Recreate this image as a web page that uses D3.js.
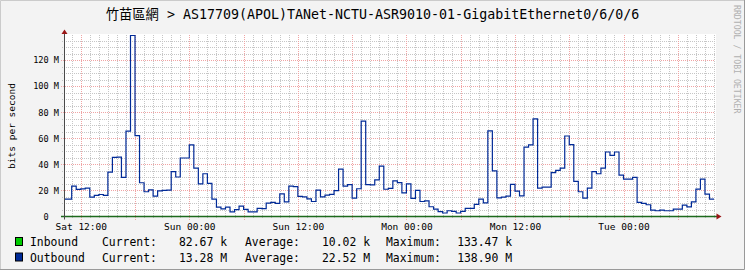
<!DOCTYPE html>
<html>
<head>
<meta charset="utf-8">
<script src="https://cdn.jsdelivr.net/npm/d3@7"></script>
<style>
body { margin: 0; background: #fff; }
svg text { font-family: "DejaVu Sans Mono", "Noto Sans CJK TC", monospace; fill: #000; white-space: pre; }
</style>
</head>
<body>
<div id="chart"></div>
<script>
var title = '竹苗區網 > AS17709(APOL)TANet-NCTU-ASR9010-01-GigabitEthernet0/6/0/6';
var yLabel = 'bits per second';
var credit = 'RRDTOOL / TOBI OETIKER';

// x is in hours counted from Sat 12:00
var xTickHours = [0, 12, 24, 36, 48, 60];
var xTickLabels = ['Sat 12:00', 'Sun 00:00', 'Sun 12:00', 'Mon 00:00', 'Mon 12:00', 'Tue 00:00'];
var yTickValues = [0, 20, 40, 60, 80, 100, 120];
var yTickLabels = ['0  ', '20 M', '40 M', '60 M', '80 M', '100 M', '120 M'];

// outbound, Mbit/s, one value per 30 minutes starting Sat 10:00
var seriesStart = -2;
var seriesStep = 0.5;
var outbound = [
	13.3, 13.3, 23.3, 20.8, 21.2, 21.8, 14.9, 16.2, 16.9, 16.2,
	34.1, 45.4, 45.6, 30.0, 65.6, 138.9, 62.0, 25.9, 19.0, 20.5,
	15.6, 19.7, 20.0, 20.3, 34.4, 30.3, 44.9, 44.9, 54.9, 37.2,
	25.1, 32.8, 25.4, 13.3, 7.2, 5.9, 7.2, 3.6, 5.3, 7.9,
	5.4, 3.6, 3.6, 6.3, 6.0, 10.2, 10.8, 10.0, 17.3, 11.2,
	23.3, 23.0, 15.5, 15.0, 13.5, 11.5, 20.3, 15.1, 16.4, 17.0,
	19.8, 36.4, 23.3, 24.5, 14.1, 21.3, 73.2, 24.5, 24.2, 28.1,
	38.6, 20.9, 21.6, 27.4, 26.0, 18.1, 25.0, 13.9, 20.0, 11.5,
	12.0, 7.5, 5.6, 3.8, 2.7, 4.4, 3.9, 2.7, 4.0, 6.3,
	6.3, 9.3, 13.3, 10.4, 65.7, 35.0, 14.3, 14.8, 15.6, 24.6,
	19.5, 15.9, 53.3, 54.9, 74.9, 21.8, 22.6, 22.6, 33.6, 35.4,
	37.2, 61.8, 55.1, 26.9, 19.0, 14.1, 21.8, 34.4, 32.8, 37.2,
	49.5, 46.9, 49.5, 31.8, 28.7, 28.7, 30.0, 10.8, 10.0, 9.0,
	4.9, 4.4, 4.9, 4.4, 4.4, 5.6, 5.6, 8.7, 7.4, 11.3,
	21.0, 28.7, 17.2, 13.3
];

var legendNames = ['Inbound', 'Outbound'];
var legendColors = ['#00cc00', '#002a97'];
var legendCurrent = ['82.67 k', '13.28 M'];
var legendAverage = ['10.02 k', '22.52 M'];
var legendMaximum = ['133.47 k', '138.90 M'];

var W = 745, H = 270;
var plot = { left: 64, right: 714, top: 35, bottom: 216.5 };

var x = d3.scaleLinear().domain([-1.85, 70.0]).range([plot.left, plot.right]);
var y = d3.scaleLinear().domain([0, 139.3]).range([plot.bottom, plot.top]);

var svg = d3.select('#chart').append('svg')
	.attr('width', W)
	.attr('height', H);

// background + shaded frame
svg.append('rect').attr('width', W).attr('height', H).attr('fill', '#f3f3f3');
svg.append('path').attr('d', 'M0.5,' + H + 'V0.5H' + W).attr('fill', 'none').attr('stroke', '#cbcbcb');
svg.append('path').attr('d', 'M0,' + (H - 0.5) + 'H' + (W - 0.5) + 'V0').attr('fill', 'none').attr('stroke', '#999');

svg.append('rect')
	.attr('x', plot.left).attr('y', plot.top - 1)
	.attr('width', plot.right + 2 - plot.left).attr('height', plot.bottom - plot.top + 1)
	.attr('fill', '#fff');

var grid = svg.append('g').attr('shape-rendering', 'crispEdges');
var snap = function ( v ) { return Math.round( v ) + 0.5; };

// minor grid: every hour / every 5 M, major: every 6 hours / every 20 M
var minorX = d3.range(-1, 71).filter(function ( h ) { return ( h + 120 ) % 6 !== 0; });
var minorY = d3.range(5, 139, 5).filter(function ( v ) { return v % 20 !== 0; });
var majorX = d3.range(-1, 71).filter(function ( h ) { return ( h + 120 ) % 6 === 0; });
var majorY = d3.range(20, 139, 20);

grid.selectAll('.vmin').data(minorX).enter().append('line')
	.attr('x1', function ( d ) { return snap( x( d ) ); })
	.attr('x2', function ( d ) { return snap( x( d ) ); })
	.attr('y1', plot.top).attr('y2', plot.bottom + 2)
	.attr('stroke', '#c6c6c6').attr('stroke-dasharray', '1,1');
grid.selectAll('.hmin').data(minorY).enter().append('line')
	.attr('x1', plot.left - 2).attr('x2', plot.right + 1)
	.attr('y1', function ( d ) { return snap( y( d ) ); })
	.attr('y2', function ( d ) { return snap( y( d ) ); })
	.attr('stroke', '#c6c6c6').attr('stroke-dasharray', '1,1');
grid.selectAll('.vmaj').data(majorX).enter().append('line')
	.attr('x1', function ( d ) { return snap( x( d ) ); })
	.attr('x2', function ( d ) { return snap( x( d ) ); })
	.attr('y1', plot.top).attr('y2', plot.bottom + 3)
	.attr('stroke', '#f0a4a4').attr('stroke-dasharray', '1,1');
grid.selectAll('.hmaj').data(majorY).enter().append('line')
	.attr('x1', plot.left - 3).attr('x2', plot.right + 1)
	.attr('y1', function ( d ) { return snap( y( d ) ); })
	.attr('y2', function ( d ) { return snap( y( d ) ); })
	.attr('stroke', '#f0a4a4').attr('stroke-dasharray', '1,1');

// outbound step line
var pts = outbound.map(function ( v, i ) { return [ seriesStart + i * seriesStep, v ]; });
pts.push([ seriesStart + outbound.length * seriesStep, outbound[outbound.length - 1] ]);

svg.append('clipPath').attr('id', 'clip').append('rect')
	.attr('x', plot.left).attr('y', 0).attr('width', plot.right - plot.left).attr('height', H);

svg.append('path')
	.datum(pts)
	.attr('clip-path', 'url(#clip)')
	.attr('fill', 'none')
	.attr('stroke', legendColors[1])
	.attr('stroke-width', 1.2)
	.attr('d', d3.line()
		.x(function ( d ) { return x( d[0] ); })
		.y(function ( d ) { return y( d[1] ); })
		.curve(d3.curveStepAfter));

// axes lines (inbound sits on the zero line)
svg.append('line')
	.attr('x1', plot.left - 3).attr('x2', plot.right + 3)
	.attr('y1', y(0)).attr('y2', y(0))
	.attr('stroke', '#1d6a1d').attr('stroke-width', 1.5);
svg.append('line')
	.attr('x1', plot.left + 0.5).attr('x2', plot.left + 0.5)
	.attr('y1', plot.top - 2).attr('y2', plot.bottom + 3)
	.attr('stroke', '#4a4a4a');
svg.append('path')
	.attr('d', 'M' + (plot.left + 0.5) + ',29.5L' + (plot.left + 3.5) + ',34L' + (plot.left - 2.5) + ',34Z')
	.attr('fill', '#9a1515');
svg.append('path')
	.attr('d', 'M721.5,' + y(0) + 'L716.5,' + (y(0) - 3) + 'L716.5,' + (y(0) + 3) + 'Z')
	.attr('fill', '#9a1515');

// tick labels
var xAxis = d3.axisBottom(x)
	.tickValues(xTickHours)
	.tickFormat(function ( d, i ) { return xTickLabels[i]; })
	.tickSize(0)
	.tickPadding(6.5);
var gx = svg.append('g')
	.attr('transform', 'translate(0,' + plot.bottom + ')')
	.call(xAxis);
gx.select('.domain').remove();
gx.selectAll('text').attr('font-size', 9.5).attr('font-family', '"DejaVu Sans Mono", monospace');

var yAxis = d3.axisLeft(y)
	.tickValues(yTickValues)
	.tickFormat(function ( d, i ) { return yTickLabels[i]; })
	.tickSize(0)
	.tickPadding(5);
var gy = svg.append('g')
	.attr('transform', 'translate(' + plot.left + ',0)')
	.call(yAxis);
gy.select('.domain').remove();
gy.selectAll('text').attr('font-size', 8.6).attr('font-family', '"DejaVu Sans Mono", monospace');

svg.append('text')
	.attr('transform', 'translate(11,' + 126 + ') rotate(-90)')
	.attr('text-anchor', 'middle')
	.attr('dominant-baseline', 'central')
	.attr('font-size', 9.5)
	.text(yLabel);

// title and credit
svg.append('text')
	.attr('x', 372.5).attr('y', 14)
	.attr('text-anchor', 'middle')
	.attr('dominant-baseline', 'central')
	.attr('font-size', 13.3)
	.text(title);

svg.append('text')
	.attr('transform', 'translate(737,5) rotate(90)')
	.attr('dominant-baseline', 'central')
	.attr('font-size', 8.2)
	.style('fill', '#b0b0b0')
	.text(credit);

// legend
var rows = svg.selectAll('.legend').data(legendNames).enter().append('g')
	.attr('transform', function ( d, i ) { return 'translate(0,' + ( 242 + i * 15.5 ) + ')'; });

rows.append('rect')
	.attr('x', 15.5).attr('y', -4.5).attr('width', 7).attr('height', 8)
	.attr('fill', function ( d, i ) { return legendColors[i]; })
	.attr('stroke', '#000');

var legendText = function ( sel, xpos, anchor, fn ) {
	sel.append('text')
		.attr('x', xpos)
		.attr('text-anchor', anchor)
		.attr('dominant-baseline', 'central')
		.attr('font-size', 11.4)
		.text(fn);
};
legendText(rows, 30, 'start', function ( d ) { return d; });
legendText(rows, 102, 'start', function () { return 'Current:'; });
legendText(rows, 227, 'end', function ( d, i ) { return legendCurrent[i]; });
legendText(rows, 245, 'start', function () { return 'Average:'; });
legendText(rows, 370, 'end', function ( d, i ) { return legendAverage[i]; });
legendText(rows, 386, 'start', function () { return 'Maximum:'; });
legendText(rows, 512, 'end', function ( d, i ) { return legendMaximum[i]; });
</script>
</body>
</html>
